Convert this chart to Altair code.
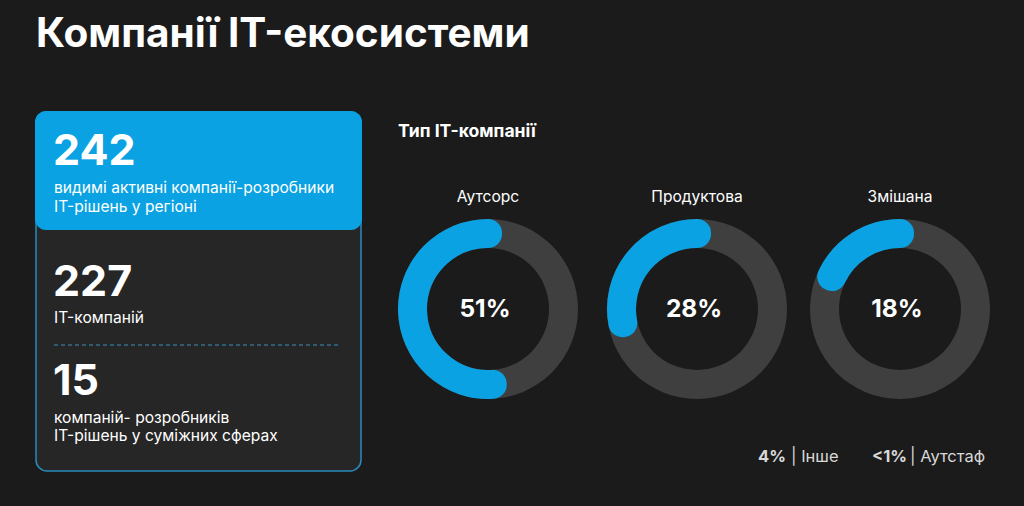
import altair as alt
import pandas as pd

# ---------------- data ----------------
title_text = "Компанії IT-екосистеми"
card_numbers = ["242", "227", "15"]
card_captions = [
    ["видимі активні компанії-розробники", "IT-рішень у регіоні"],
    ["IT-компаній"],
    ["компаній- розробників", "IT-рішень у суміжних сферах"],
]
section_title = "Тип IT-компанії"
type_labels = ["Аутсорс", "Продуктова", "Змішана"]
type_values = [51, 28, 18]
other_values = ["4%", "<1%"]
other_labels = ["Інше", "Аутстаф"]

# ---------------- layout / style ----------------
W, H = 1024, 506
BG = "#1b1b1b"
BLUE = "#0aa2e2"
CARD = "#262626"
RING = "#3f3f3f"
BORDER = "#2a8cbf"
FONT = "Inter"

num_y = [165, 296, 395]
caption_y = [[193, 212], [323], [423, 441]]
donut_cx = [488, 697, 900]
donut_cy = 309
other_x = [(758, 791), (872, 910)]


def one(**kw):
    return pd.DataFrame({k: [v] for k, v in kw.items()})


def text_layer(text, x, y, size, weight="normal", color="white", align="left",
               baseline="alphabetic"):
    return alt.Chart(one(t=text)).mark_text(
        align=align, baseline=baseline, fontSize=size, fontWeight=weight,
        color=color, font=FONT
    ).encode(x=alt.value(x), y=alt.value(y), text="t:N")


layers = []

# title
layers.append(text_layer(title_text, 36, 47, 40.5, weight="bold"))

# card
layers.append(alt.Chart(one(a=0)).mark_rect(
    fill=CARD, stroke=BORDER, strokeWidth=1.5, cornerRadius=11
).encode(x=alt.value(36), x2=alt.value(361), y=alt.value(112), y2=alt.value(471)))
layers.append(alt.Chart(one(a=0)).mark_rect(
    fill=BLUE, cornerRadius=11
).encode(x=alt.value(35), x2=alt.value(362), y=alt.value(111), y2=alt.value(230)))
layers.append(alt.Chart(one(a=0)).mark_rule(
    color="#3a8fbd", strokeDash=[4, 3], strokeWidth=1
).encode(x=alt.value(54), x2=alt.value(338), y=alt.value(345)))

for num, ny, caps, cys in zip(card_numbers, num_y, card_captions, caption_y):
    layers.append(text_layer(num, 53, ny, 43, weight="bold"))
    for c, cy in zip(caps, cys):
        layers.append(text_layer(c, 54, cy, 15.6))

# section title
layers.append(text_layer(section_title, 398, 137, 17.6, weight="bold"))

# donuts
theta_scale = alt.Scale(domain=[0, 100], range=[0, 6.283185307])
for label, val, cx in zip(type_labels, type_values, donut_cx):
    base = alt.Chart(one(label=label, value=val)).transform_calculate(
        start="100 - datum.value", end="100", zero="0",
        pct="datum.value + '%'"
    )
    ring = base.mark_arc(radius=90, radius2=61, color=RING).encode(
        theta=alt.Theta("zero:Q", scale=theta_scale, stack=None),
        theta2="end:Q",
        x=alt.value(cx), y=alt.value(donut_cy),
    )
    arc = base.mark_arc(
        radius=76, radius2=75, fill=BLUE, stroke=BLUE, strokeWidth=28,
        strokeJoin="round"
    ).encode(
        theta=alt.Theta("start:Q", scale=theta_scale, stack=None),
        theta2="end:Q",
        x=alt.value(cx), y=alt.value(donut_cy),
    )
    lab = base.mark_text(fontSize=15.6, color="white", font=FONT, align="center",
                         baseline="alphabetic").encode(
        x=alt.value(cx), y=alt.value(202), text="label:N")
    pct = base.mark_text(fontSize=24.5, fontWeight="bold", color="white", font=FONT,
                         align="center", baseline="middle").encode(
        x=alt.value(cx - 3), y=alt.value(donut_cy + 1), text="pct:N")
    layers += [ring, arc, lab, pct]

# other categories
for v, l, (x1, x2) in zip(other_values, other_labels, other_x):
    layers.append(text_layer(v, x1, 462, 16.5, weight="bold", color="#d8d8d8"))
    layers.append(text_layer("| " + l, x2, 462, 16.5, color="#d8d8d8"))

chart = alt.layer(*layers).properties(
    width=W, height=H, background=BG, padding=0, autosize="none"
).configure_view(stroke=None)

chart.save("out.html", embed_options={"renderer": "svg", "actions": False})
